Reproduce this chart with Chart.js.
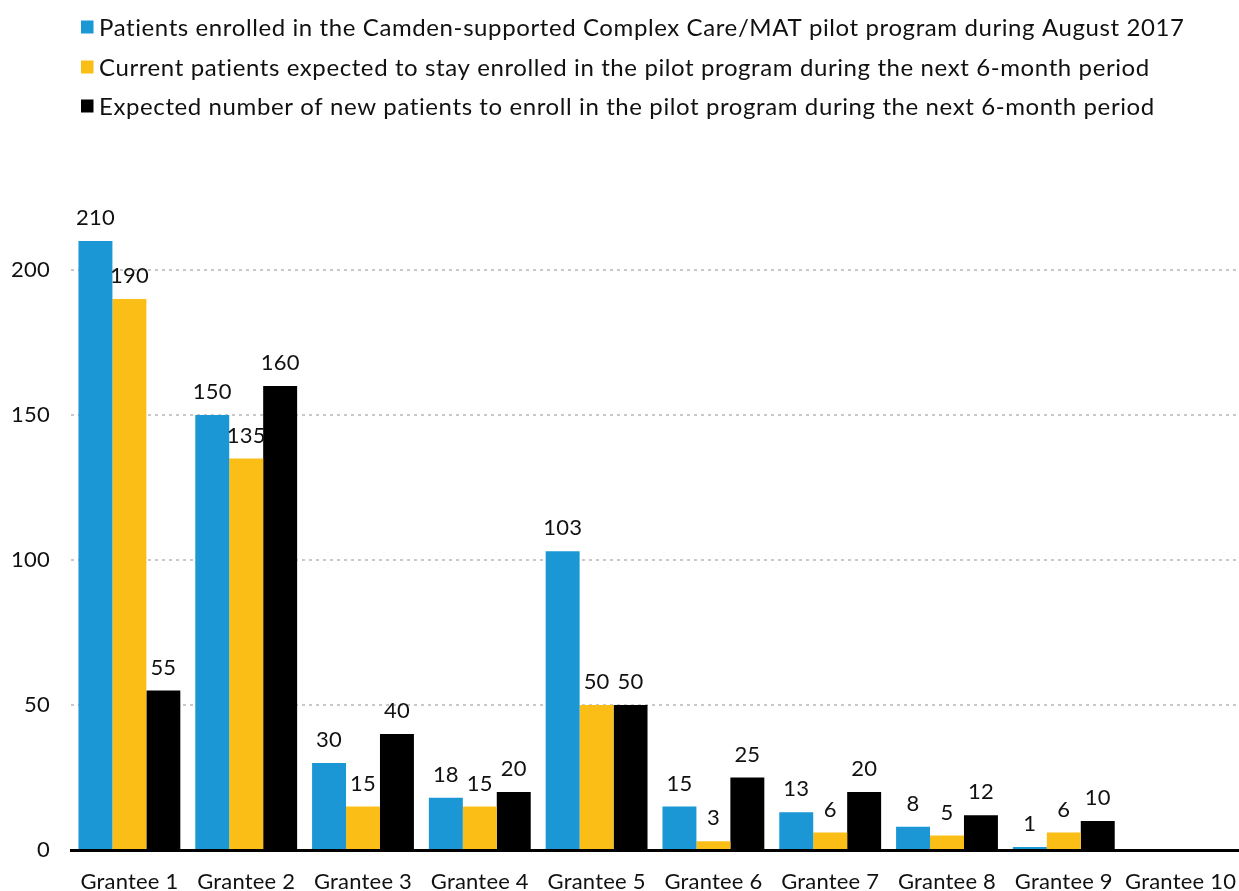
<!DOCTYPE html>
<html>
<head>
<meta charset="utf-8">
<script src="https://cdn.jsdelivr.net/npm/chart.js@4/dist/chart.umd.min.js"></script>
<style>
  html, body { margin: 0; padding: 0; background: #fff; }
  canvas { display: block; }
</style>
</head>
<body>
<canvas id="c" width="1239" height="891"></canvas>
<script>
const categories = ["Grantee 1","Grantee 2","Grantee 3","Grantee 4","Grantee 5","Grantee 6","Grantee 7","Grantee 8","Grantee 9","Grantee 10"];
const seriesLabels = [
  "Patients enrolled in the Camden-supported Complex Care/MAT pilot program during August 2017",
  "Current patients expected to stay enrolled in the pilot program during the next 6-month period",
  "Expected number of new patients to enroll in the pilot program during the next 6-month period"
];
const enrolledAug2017 = [210, 150, 30, 18, 103, 15, 13, 8, 1, null];
const expectedStay = [190, 135, 15, 15, 50, 3, 6, 5, 6, null];
const expectedNew = [55, 160, 40, 20, 50, 25, 20, 12, 10, null];
const yTicks = [0, 50, 100, 150, 200];
const colors = ["#1a97d4", "#fbbe17", "#000000"];

const FONT = "Lato, 'Open Sans', sans-serif";

const letterSpacingPlugin = {
  id: 'letterSpacing',
  beforeDraw(chart) {
    if ('letterSpacing' in chart.ctx) chart.ctx.letterSpacing = '0.2px';
  }
};

const valueLabels = {
  id: 'valueLabels',
  afterDatasetsDraw(chart) {
    const ctx = chart.ctx;
    ctx.save();
    ctx.font = "22px " + FONT;
    if ('letterSpacing' in ctx) ctx.letterSpacing = '0.2px';
    ctx.fillStyle = "#111";
    ctx.textAlign = "center";
    ctx.textBaseline = "alphabetic";
    chart.data.datasets.forEach((ds, i) => {
      const meta = chart.getDatasetMeta(i);
      meta.data.forEach((el, j) => {
        const v = ds.data[j];
        if (v === null || v === undefined) return;
        ctx.fillText(String(v), el.x, el.y - 16);
      });
    });
    ctx.restore();
  }
};

const customLegend = {
  id: 'customLegend',
  afterDraw(chart) {
    const ctx = chart.ctx;
    ctx.save();
    ctx.font = "24px " + FONT;
    if ('letterSpacing' in ctx) ctx.letterSpacing = '0.6px';
    ctx.textBaseline = "middle";
    ctx.textAlign = "left";
    const ys = [27, 67, 106];
    chart.data.datasets.forEach((ds, i) => {
      ctx.fillStyle = ds.backgroundColor;
      ctx.fillRect(81, ys[i] - 6.5, 12.5, 13);
      ctx.fillStyle = "#111";
      ctx.fillText(ds.label, 99, ys[i] + 1);
    });
    ctx.restore();
  }
};

new Chart(document.getElementById('c'), {
  type: 'bar',
  data: {
    labels: categories,
    datasets: [
      { label: seriesLabels[0], data: enrolledAug2017, backgroundColor: colors[0] },
      { label: seriesLabels[1], data: expectedStay, backgroundColor: colors[1] },
      { label: seriesLabels[2], data: expectedNew, backgroundColor: colors[2] }
    ]
  },
  options: {
    responsive: false,
    animation: false,
    devicePixelRatio: 1,
    layout: { padding: { top: 154, right: 0, left: 0, bottom: 0 } },
    datasets: { bar: { categoryPercentage: 0.872, barPercentage: 1.0 } },
    plugins: {
      legend: { display: false },
      tooltip: { enabled: false }
    },
    scales: {
      x: {
        grid: { display: false, drawTicks: false },
        border: { display: true, color: '#000', width: 3 },
        ticks: { color: '#111', font: { family: FONT, size: 22 }, padding: 19, maxRotation: 0, autoSkip: false },
        afterFit(scale) { scale.height = 41; scale.paddingLeft = 0; scale.paddingRight = 0; }
      },
      y: {
        min: 0,
        max: 240,
        border: { display: false },
        grid: {
          drawTicks: false,
          color: (c) => (c.tick && c.tick.value === 0) ? 'rgba(0,0,0,0)' : '#c9c9c9',
          lineWidth: 2
        },
        ticks: { color: '#111', font: { family: FONT, size: 22 }, padding: 21, stepSize: 50 },
        afterBuildTicks(scale) { scale.ticks = yTicks.map(v => ({ value: v })); },
        afterFit(scale) { scale.width = 71; scale.paddingTop = 0; scale.paddingBottom = 0; }
      }
    }
  },
  plugins: [letterSpacingPlugin, valueLabels, customLegend, {
    id: 'dashGrid',
    beforeInit(chart) {
      chart.options.scales.y.border.dash = [3, 4];
    }
  }]
});
</script>
</body>
</html>
